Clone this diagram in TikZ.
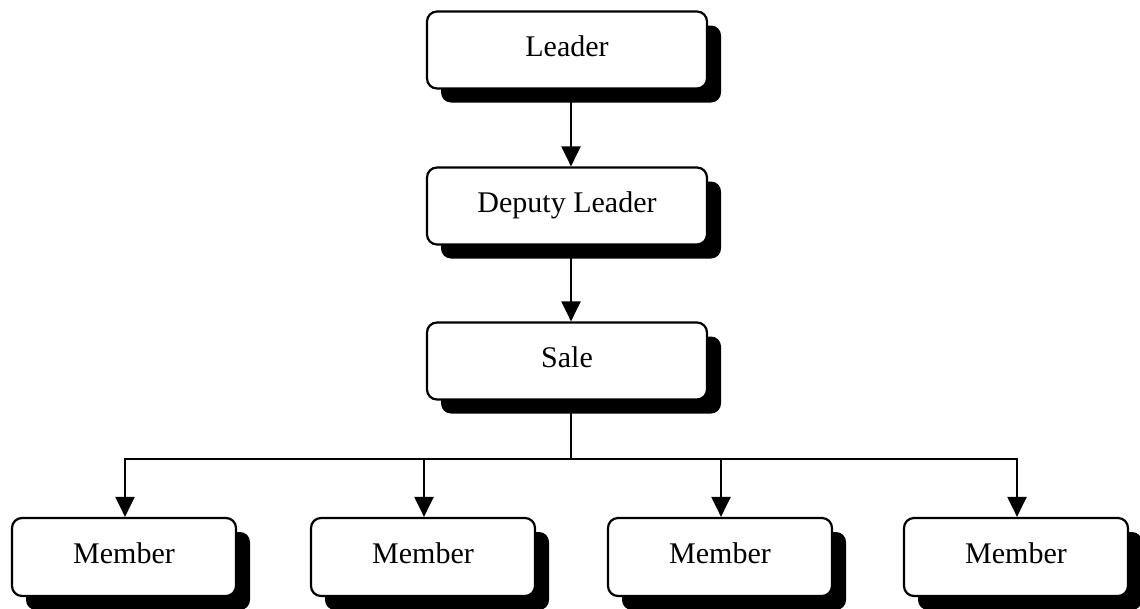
\documentclass[tikz,border=0pt]{standalone}
\usepackage{fontspec}
\setmainfont{Liberation Serif}
\usetikzlibrary{shadows,arrows.meta}
\begin{document}
\begin{tikzpicture}[x=1pt,y=-1pt,
  box/.style={draw=black, line width=2.2pt, rounded corners=10pt, fill=white,
    minimum width=280pt, minimum height=77pt, inner sep=0pt,
    text height=21pt, text depth=9pt,
    font=\fontsize{30}{36}\selectfont,
    drop shadow={shadow xshift=14pt, shadow yshift=-14pt, fill=black, opacity=1}},
  memberbox/.style={box, minimum width=224pt, minimum height=78pt},
  link/.style={line width=2.2pt, -{Triangle[length=20pt,width=19pt]}}]
  \useasboundingbox (0,0) rectangle (1140,608);

  % chain of command
  \node[box] (leader) at (567,50) {Leader};
  \node[box] (deputy) at (567,206) {Deputy Leader};
  \node[box] (sale)   at (567,361) {Sale};

  % members
  \node[memberbox] (m1) at (124,557) {Member};
  \node[memberbox] (m2) at (423,557) {Member};
  \node[memberbox] (m3) at (720,557) {Member};
  \node[memberbox] (m4) at (1016,557) {Member};

  % connectors
  \draw[link] ([xshift=4pt]leader.south) -- ([xshift=4pt]deputy.north);
  \draw[link] ([xshift=4pt]deputy.south) -- ([xshift=4pt]sale.north);
  \coordinate (bus) at (571,459);
  \foreach \m in {m1,m2,m3,m4}
    \draw[link] ([xshift=4pt]sale.south) -- (bus) -| ([xshift=1pt]\m.north);
\end{tikzpicture}
\end{document}
